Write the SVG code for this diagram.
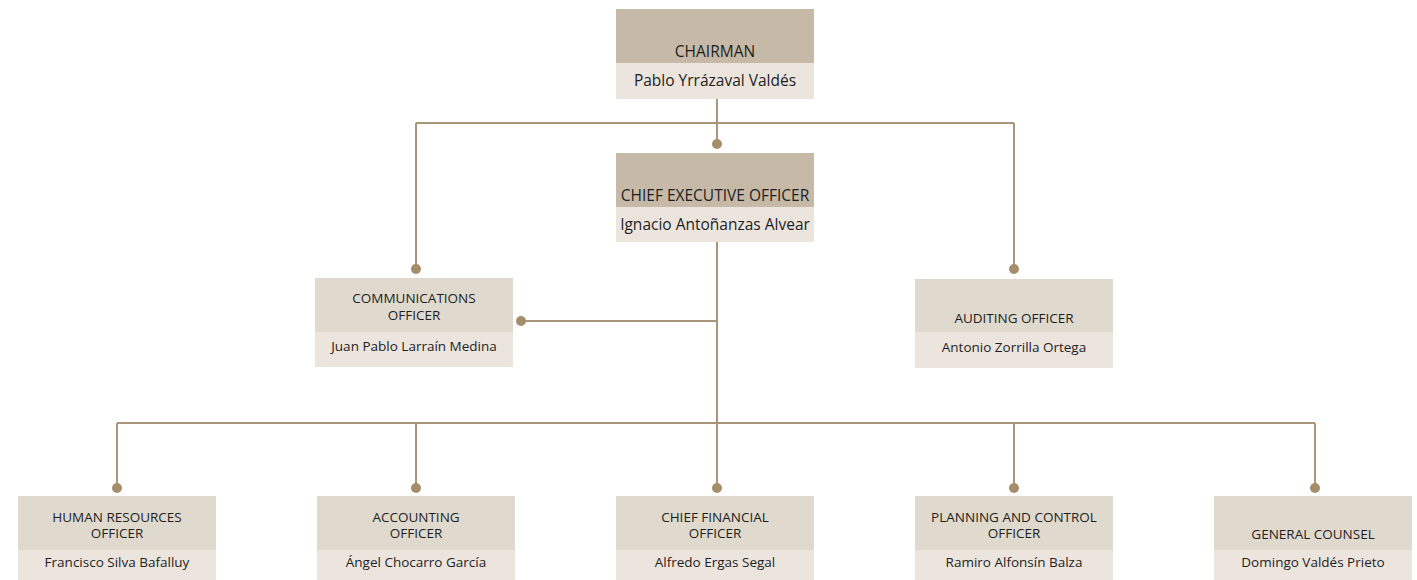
<svg xmlns="http://www.w3.org/2000/svg" width="1417" height="580" viewBox="0 0 1417 580">
<style>
.hd1{fill:#c6b9a8}
.hd2{fill:#e0d9ce}
.bd{fill:#ebe5de}
.t1{font-family:"Open Sans","Noto Sans",sans-serif;font-size:15.5px;fill:#1e1e1e;text-anchor:middle}
.t2{font-family:"Open Sans","Noto Sans",sans-serif;font-size:13.5px;fill:#1e1e1e;text-anchor:middle}
.ln{stroke:#a8957a;stroke-width:2;fill:none}
.dot{fill:#a68d6a}
</style>
<rect width="1417" height="580" fill="#ffffff"/>
<g id="connectors">
<path class="ln" d="M717 99 V144 M416 123 H1014 M416 123 V269 M1014 123 V269 M717 242 V423 M521 321 H717 M117 423 H1315 M117 423 V488 M416 423 V488 M717 423 V488 M1014 423 V488 M1315 423 V488"/>
<circle class="dot" cx="717" cy="144" r="5"/>
<circle class="dot" cx="416" cy="269" r="5"/>
<circle class="dot" cx="1014" cy="269" r="5"/>
<circle class="dot" cx="521" cy="321" r="5"/>
<circle class="dot" cx="117" cy="488" r="5"/>
<circle class="dot" cx="416" cy="488" r="5"/>
<circle class="dot" cx="717" cy="488" r="5"/>
<circle class="dot" cx="1014" cy="488" r="5"/>
<circle class="dot" cx="1315" cy="488" r="5"/>
</g>
<g id="chairman">
<rect class="hd1" x="616" y="9" width="198" height="54"/>
<rect class="bd" x="616" y="63" width="198" height="36"/>
<text class="t1" x="715" y="57">CHAIRMAN</text>
<text class="t1" x="715" y="86">Pablo Yrrázaval Valdés</text>
</g>
<g id="ceo">
<rect class="hd1" x="616" y="153" width="198" height="54"/>
<rect class="bd" x="616" y="207" width="198" height="35"/>
<text class="t1" x="715" y="201">CHIEF EXECUTIVE OFFICER</text>
<text class="t1" x="715" y="230">Ignacio Antoñanzas Alvear</text>
</g>
<g id="communications">
<rect class="hd2" x="315" y="278" width="198" height="54"/>
<rect class="bd" x="315" y="332" width="198" height="35"/>
<text class="t2" x="414" y="303">COMMUNICATIONS</text>
<text class="t2" x="414" y="320">OFFICER</text>
<text class="t2" x="414" y="351">Juan Pablo Larraín Medina</text>
</g>
<g id="auditing">
<rect class="hd2" x="915" y="279" width="198" height="53"/>
<rect class="bd" x="915" y="332" width="198" height="36"/>
<text class="t2" x="1014" y="323">AUDITING OFFICER</text>
<text class="t2" x="1014" y="352">Antonio Zorrilla Ortega</text>
</g>
<g id="hr">
<rect class="hd2" x="18" y="496" width="198" height="54"/>
<rect class="bd" x="18" y="550" width="198" height="35"/>
<text class="t2" x="117" y="522">HUMAN RESOURCES</text>
<text class="t2" x="117" y="538">OFFICER</text>
<text class="t2" x="117" y="567">Francisco Silva Bafalluy</text>
</g>
<g id="accounting">
<rect class="hd2" x="317" y="496" width="198" height="54"/>
<rect class="bd" x="317" y="550" width="198" height="35"/>
<text class="t2" x="416" y="522">ACCOUNTING</text>
<text class="t2" x="416" y="538">OFFICER</text>
<text class="t2" x="416" y="567">Ángel Chocarro García</text>
</g>
<g id="cfo">
<rect class="hd2" x="616" y="496" width="198" height="54"/>
<rect class="bd" x="616" y="550" width="198" height="35"/>
<text class="t2" x="715" y="522">CHIEF FINANCIAL</text>
<text class="t2" x="715" y="538">OFFICER</text>
<text class="t2" x="715" y="567">Alfredo Ergas Segal</text>
</g>
<g id="planning">
<rect class="hd2" x="915" y="496" width="198" height="54"/>
<rect class="bd" x="915" y="550" width="198" height="35"/>
<text class="t2" x="1014" y="522">PLANNING AND CONTROL</text>
<text class="t2" x="1014" y="538">OFFICER</text>
<text class="t2" x="1014" y="567">Ramiro Alfonsín Balza</text>
</g>
<g id="counsel">
<rect class="hd2" x="1214" y="496" width="198" height="54"/>
<rect class="bd" x="1214" y="550" width="198" height="35"/>
<text class="t2" x="1313" y="539">GENERAL COUNSEL</text>
<text class="t2" x="1313" y="567">Domingo Valdés Prieto</text>
</g>
</svg>
